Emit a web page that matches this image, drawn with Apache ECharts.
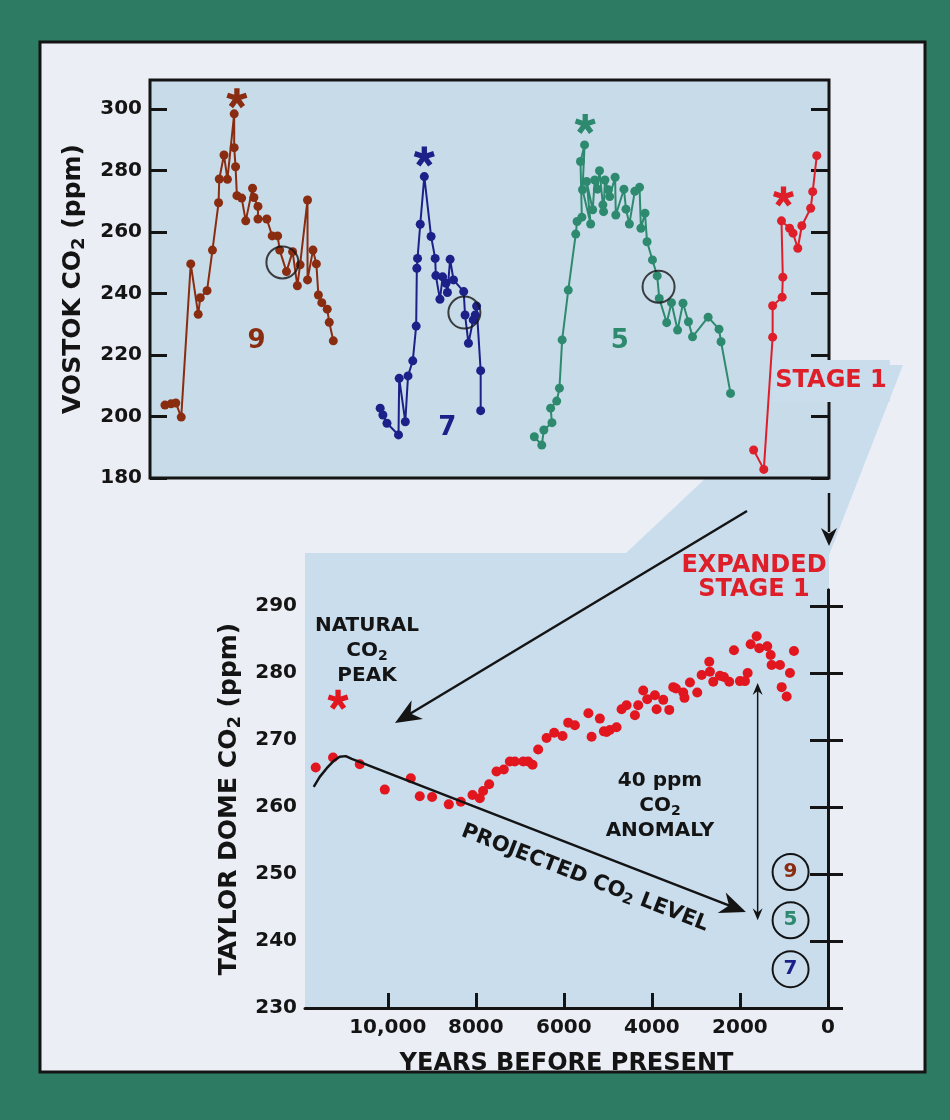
<!DOCTYPE html>
<html><head><meta charset="utf-8">
<script src="https://cdn.jsdelivr.net/npm/echarts@6/dist/echarts.min.js"></script>
<style>html,body{margin:0;padding:0;background:#2e7b63}#c{width:950px;height:1120px}</style>
</head><body><div id="c"></div>
<script>
// ---------------- DATA ----------------
// Upper panel (Vostok): x = relative position along the compressed time axis (0-100), y = CO2 ppm
const vostokTicks = [180, 200, 220, 240, 260, 280, 300];
const stage9 = [[2.2,203.7],[3.1,204.1],[3.8,204.4],[4.6,199.8],[6.0,249.6],[7.1,233.2],[7.4,238.6],[8.4,240.9],[9.2,254.1],[10.1,269.5],[10.2,277.2],[10.9,285.0],[11.4,277.1],[12.4,298.4],[12.4,287.4],[12.6,281.2],[12.8,271.8],[13.5,271.0],[14.1,263.6],[15.1,274.2],[15.3,271.2],[15.9,268.3],[15.9,264.2],[17.2,264.2],[18.0,258.7],[18.8,258.7],[19.1,254.1],[20.1,247.1],[21.0,253.6],[21.7,242.5],[22.1,249.3],[23.2,270.4],[23.2,244.4],[24.0,254.1],[24.5,249.6],[24.8,239.5],[25.3,237.0],[26.1,234.9],[26.4,230.6],[27.0,224.6]];
const stage7 = [[33.9,202.7],[34.3,200.5],[34.9,197.8],[36.6,194.0],[36.7,212.4],[37.6,198.3],[38.0,213.2],[38.7,218.1],[39.2,229.4],[39.3,248.2],[39.4,251.4],[39.8,262.5],[40.4,278.0],[41.4,258.5],[42.0,251.4],[42.1,245.8],[42.7,238.1],[43.1,245.4],[43.6,243.3],[43.8,240.3],[44.2,251.1],[44.7,244.4],[46.2,240.6],[46.4,233.0],[46.9,223.8],[47.6,231.4],[47.9,233.0],[48.1,235.9],[48.7,214.9],[48.7,201.9]];
const stage5 = [[56.6,193.4],[57.7,190.7],[58.0,195.6],[59.2,198.0],[59.0,202.7],[59.9,205.0],[60.3,209.2],[60.7,224.9],[61.6,241.1],[62.7,259.3],[62.9,263.4],[63.6,264.8],[63.4,282.9],[64.0,288.3],[63.7,273.7],[64.9,262.6],[64.3,276.4],[65.2,267.2],[65.5,276.9],[65.9,273.9],[66.2,279.9],[66.7,268.8],[66.8,266.6],[67.0,276.9],[67.5,273.7],[67.7,271.5],[68.5,277.8],[68.6,265.5],[69.8,273.9],[70.1,267.4],[70.6,262.6],[71.4,273.2],[72.1,274.5],[72.3,261.2],[72.9,266.1],[73.2,256.8],[74.0,250.9],[74.7,245.7],[75.0,238.4],[76.1,230.5],[76.8,237.0],[77.7,228.1],[78.5,236.8],[79.3,230.8],[79.9,225.9],[82.2,232.3],[83.8,228.4],[84.1,224.3],[85.5,207.5]];
const stage1 = [[88.9,189.1],[90.4,182.8],[91.7,225.8],[91.7,236.0],[93.1,238.8],[93.2,245.3],[93.0,263.6],[94.2,261.2],[94.7,259.6],[95.4,254.7],[96.0,262.0],[97.3,267.7],[97.6,273.1],[98.2,284.8]];
const peakStars = [[12.8,303.5],[40.4,284.5],[64.1,295.1],[93.3,271.5]];
const transitionCircles = [[19.5,250.1],[46.3,233.8],[74.9,242.2]];
const stageNames = ['9', '7', '5'];
const stageNamePos = [[15.7,224.3],[43.8,196.2],[69.2,224.3]];

// Lower panel (Taylor Dome)
const yearTicks = [10000, 8000, 6000, 4000, 2000, 0];
const yearTickLabels = ['10,000', '8000', '6000', '4000', '2000', '0'];
const taylorTicks = [230, 240, 250, 260, 270, 280, 290];
const taylorYears = [11636,11243,10636,10068,9477,9273,8993,8614,8341,8075,7909,7834,7697,7530,7364,7227,7114,6924,6811,6711,6584,6393,6220,6030,5902,5750,5443,5370,5182,5091,5030,4955,4803,4689,4575,4386,4311,4197,4106,3932,3893,3742,3606,3515,3455,3288,3260,3136,2970,2870,2697,2682,2606,2455,2364,2243,2136,2000,1886,1825,1757,1620,1561,1380,1302,1280,1091,1052,939,864,773];
const taylorCO2   = [265.9,267.4,266.4,262.6,264.3,261.6,261.5,260.4,260.8,261.8,261.3,262.4,263.4,265.3,265.6,266.8,266.8,266.8,266.8,266.3,268.6,270.3,271.1,270.6,272.6,272.2,274.0,270.5,273.2,271.3,271.2,271.5,271.9,274.6,275.2,273.7,275.2,277.4,276.1,276.7,274.6,276.0,274.5,277.9,277.7,277.1,276.3,278.6,277.1,279.7,281.7,280.2,278.7,279.6,279.4,278.7,283.4,278.8,278.8,280.0,284.3,285.5,283.7,284.0,282.7,281.2,281.2,277.9,276.5,280.0,283.3];
const projYears = [11682,11545,11386,11227,11091,10955,10818,1932];
const projCO2   = [263.0,264.5,265.8,266.9,267.5,267.6,267.2,244.5];
const naturalPeak = [11129, 276.0];
const stageLevelYear = 850;
const stageLevels = [['9',250.3],['5',243.1],['7',235.8]];
const anomalyYear = 1598;
const anomalyRange = [278.5, 243.1];

// ---------------- STYLE ----------------
const F = '"DejaVu Sans", Arial, sans-serif';
const INK = '#141414';
const C9 = '#8a2c10', C7 = '#1c2088', C5 = '#2e8a6f', C1 = '#de1f2a', CT = '#e2161f';
const PLOT = '#c7dbe9', LAV = '#eceef6';
const colorsByName = {'9': C9, '7': C7, '5': C5};

function asteriskPath(arms) {
  let d = '';
  const L = 100, w = 52, s = 110;
  for (let i = 0; i < arms; i++) {
    const t = i * 2 * Math.PI / arms - Math.PI / 2;
    const ux = Math.cos(t), uy = Math.sin(t), px = -uy, py = ux;
    const pts = [[px*w/2, py*w/2],[ux*L+px*w/2, uy*L+py*w/2],[ux*L-px*w/2, uy*L-py*w/2],[-px*w/2, -py*w/2]];
    d += 'M' + pts.map(p => (p[0]+s).toFixed(1) + ' ' + (p[1]+s).toFixed(1)).join('L') + 'Z';
  }
  return 'path://' + d;
}
const STAR = asteriskPath(5);

const tickStyle = {color: INK, width: 3};
const labelStyle = {fontSize: 20, fontWeight: 'bold', fontFamily: F, color: INK};
const subRich = {s: {fontSize: 18, fontWeight: 'bold', fontFamily: F, color: INK, padding: [12, 0, 0, 0]}};

const chart = echarts.init(document.getElementById('c'));
chart.setOption({
  backgroundColor: '#2e7b63',
  animation: false,
  grid: [
    {left: 150, top: 80, width: 679, height: 398, show: true, backgroundColor: PLOT, borderColor: INK, borderWidth: 3},
    {left: 305, top: 590, width: 523, height: 418, show: false}
  ],
  xAxis: [
    {type: 'value', gridIndex: 0, min: 0, max: 100, show: false},
    {type: 'value', gridIndex: 1, min: 0, max: 11880, interval: 2000, inverse: true,
     axisLine: {show: true, lineStyle: tickStyle},
     axisTick: {show: true, inside: true, length: 15, lineStyle: tickStyle, customValues: yearTicks},
     axisLabel: Object.assign({customValues: yearTicks, margin: 10,
       formatter: v => { const i = yearTicks.indexOf(v); return i >= 0 ? yearTickLabels[i] : ''; }}, labelStyle),
     splitLine: {show: false},
     name: 'YEARS BEFORE PRESENT', nameLocation: 'middle', nameGap: 44,
     nameTextStyle: {fontSize: 24, fontWeight: 'bold', fontFamily: F, color: INK}}
  ],
  yAxis: [
    {type: 'value', gridIndex: 0, min: 180, max: 309.4, interval: 20,
     axisLine: {show: false},
     axisTick: {show: true, inside: true, length: 17, lineStyle: tickStyle, customValues: vostokTicks},
     axisLabel: Object.assign({customValues: vostokTicks, margin: 8}, labelStyle),
     splitLine: {show: false},
     name: 'VOSTOK CO{s|2} (ppm)', nameLocation: 'middle', nameRotate: 90, nameGap: 62,
     nameTextStyle: {fontSize: 25, fontWeight: 'bold', fontFamily: F, color: INK, rich: subRich}},
    {type: 'value', gridIndex: 0, position: 'right', min: 180, max: 309.4, interval: 20,
     axisLine: {show: false},
     axisTick: {show: true, inside: true, length: 18, lineStyle: tickStyle, customValues: vostokTicks},
     axisLabel: {show: false}, splitLine: {show: false}},
    {type: 'value', gridIndex: 1, min: 230, max: 292.4, interval: 10,
     axisLine: {show: true, lineStyle: tickStyle},
     axisTick: {show: true, inside: true, length: 15, lineStyle: tickStyle, customValues: taylorTicks},
     axisLabel: Object.assign({customValues: taylorTicks, margin: 8}, labelStyle),
     splitLine: {show: false},
     name: 'TAYLOR DOME CO{s|2} (ppm)', nameLocation: 'middle', nameRotate: 90, nameGap: 56,
     nameTextStyle: {fontSize: 25, fontWeight: 'bold', fontFamily: F, color: INK, rich: subRich}},
    {type: 'value', gridIndex: 1, position: 'right', min: 230, max: 292.4, interval: 10,
     axisLine: {show: true, lineStyle: tickStyle},
     axisTick: {show: true, inside: true, length: 18, lineStyle: tickStyle, customValues: taylorTicks},
     axisLabel: {show: false}, splitLine: {show: false}}
  ],
  series: [
    {type: 'line', name: '9', xAxisIndex: 0, yAxisIndex: 0, data: stage9, color: C9, symbol: 'circle', symbolSize: 9, lineStyle: {width: 2}},
    {type: 'line', name: '7', xAxisIndex: 0, yAxisIndex: 0, data: stage7, color: C7, symbol: 'circle', symbolSize: 9, lineStyle: {width: 2}},
    {type: 'line', name: '5', xAxisIndex: 0, yAxisIndex: 0, data: stage5, color: C5, symbol: 'circle', symbolSize: 9, lineStyle: {width: 2}},
    {type: 'line', name: 'Stage 1', xAxisIndex: 0, yAxisIndex: 0, data: stage1, color: C1, symbol: 'circle', symbolSize: 9, lineStyle: {width: 2}},
    {type: 'scatter', xAxisIndex: 0, yAxisIndex: 0, symbol: STAR, symbolSize: 21, symbolKeepAspect: true, z: 5,
     data: peakStars.map((p, i) => ({value: p, itemStyle: {color: [C9, C7, C5, C1][i], opacity: 1}}))},
    {type: 'scatter', xAxisIndex: 0, yAxisIndex: 0, symbol: 'circle', symbolSize: 32, z: 6,
     itemStyle: {color: 'rgba(0,0,0,0)', borderColor: INK, borderWidth: 2}, data: transitionCircles},
    {type: 'scatter', xAxisIndex: 1, yAxisIndex: 2, symbol: 'circle', symbolSize: 10,
     itemStyle: {color: CT, opacity: 1}, data: taylorYears.map((y, i) => [y, taylorCO2[i]])},
    {type: 'line', xAxisIndex: 1, yAxisIndex: 2, symbol: 'none', lineStyle: {color: INK, width: 2.5},
     data: projYears.map((y, i) => [y, projCO2[i]])},
    {type: 'scatter', xAxisIndex: 1, yAxisIndex: 2, symbol: STAR, symbolSize: 21, symbolKeepAspect: true,
     itemStyle: {color: CT, opacity: 1}, data: [naturalPeak]},
    {type: 'scatter', xAxisIndex: 1, yAxisIndex: 2, symbol: 'circle', symbolSize: 36,
     itemStyle: {color: 'rgba(0,0,0,0)', borderColor: INK, borderWidth: 2, opacity: 1},
     label: {show: true, position: 'inside', fontSize: 20, fontWeight: 'bold', fontFamily: F},
     data: stageLevels.map(s => ({value: [stageLevelYear, s[1]], label: {formatter: s[0], color: colorsByName[s[0]]}}))}
  ]
});

// ---------------- ANNOTATIONS ----------------
const topPx = p => chart.convertToPixel({xAxisIndex: 0, yAxisIndex: 0}, p);
const botPx = p => chart.convertToPixel({xAxisIndex: 1, yAxisIndex: 2}, p);

function arrowHead(tip, from, len, half, notch) {
  const dx = tip[0] - from[0], dy = tip[1] - from[1], d = Math.hypot(dx, dy);
  const ux = dx / d, uy = dy / d, px = -uy, py = ux;
  const bx = tip[0] - ux * len, by = tip[1] - uy * len;
  const nx = tip[0] - ux * len * (1 - notch), ny = tip[1] - uy * len * (1 - notch);
  return [[tip[0], tip[1]], [bx + px * half, by + py * half], [nx, ny], [bx - px * half, by - py * half]];
}
function textRich(size, color, lh) {
  return {
    a: {fontSize: size, fontWeight: 'bold', fontFamily: F, fill: color, color: color, lineHeight: lh, align: 'center'},
    s: {fontSize: Math.round(size * 0.72), fontWeight: 'bold', fontFamily: F, fill: color, color: color, lineHeight: lh, padding: [10, 0, 0, 0]}
  };
}

const g = [];
// panel
g.push({type: 'rect', z: -100, shape: {x: 40, y: 42, width: 885, height: 1030}, style: {fill: LAV, stroke: INK, lineWidth: 3}});
// expansion band
g.push({type: 'polygon', z: -90, shape: {points: [[826,365],[903,365],[829,555],[829,1008],[305,1008],[305,553],[626,553]]}, style: {fill: '#cadded'}});

// stage labels in top panel
stageNames.forEach((n, i) => {
  const p = topPx(stageNamePos[i]);
  g.push({type: 'text', z: 50, x: p[0], y: p[1], style: {text: n, align: 'center', verticalAlign: 'middle', font: 'bold 26px ' + F, fill: colorsByName[n]}});
});
// STAGE 1 label
{
  const p = topPx([100.3, 211.5]);
  g.push({type: 'text', z: 60, x: p[0], y: p[1], style: {text: 'STAGE 1', align: 'center', verticalAlign: 'middle', font: 'bold 24px ' + F, fill: C1, backgroundColor: '#cadded', padding: [9, 3, 9, 3]}});
}
// small down arrow & EXPANDED STAGE 1
g.push({type: 'line', z: 50, shape: {x1: 829, y1: 493, x2: 829, y2: 532}, style: {stroke: INK, lineWidth: 2.5}});
g.push({type: 'polygon', z: 50, shape: {points: arrowHead([829, 546], [829, 493], 18, 8, 0.3)}, style: {fill: INK}});
g.push({type: 'text', z: 50, x: 754, y: 578, style: {text: 'EXPANDED\nSTAGE 1', align: 'center', verticalAlign: 'middle', font: 'bold 24px ' + F, fill: C1, lineHeight: 24}});
// big arrow
g.push({type: 'line', z: 50, shape: {x1: 747, y1: 511, x2: 408, y2: 715}, style: {stroke: INK, lineWidth: 2.5}});
g.push({type: 'polygon', z: 50, shape: {points: arrowHead([395, 723], [747, 511], 26, 11, 0.3)}, style: {fill: INK}});
// NATURAL CO2 PEAK
g.push({type: 'text', z: 50, x: 367, y: 651, style: {text: '{a|NATURAL}\n{a|CO}{s|2}\n{a|PEAK}', rich: textRich(20, INK, 25), align: 'center', verticalAlign: 'middle'}});
// 40 ppm anomaly text
g.push({type: 'text', z: 50, x: 660, y: 806, style: {text: '{a|40 ppm}\n{a|CO}{s|2}\n{a|ANOMALY}', rich: textRich(20, INK, 25), align: 'center', verticalAlign: 'middle'}});
// anomaly double arrow
{
  const a = botPx([anomalyYear, anomalyRange[0]]), b = botPx([anomalyYear, anomalyRange[1]]);
  g.push({type: 'line', z: 50, shape: {x1: a[0], y1: a[1] + 6, x2: b[0], y2: b[1] - 6}, style: {stroke: INK, lineWidth: 1.5}});
  g.push({type: 'polygon', z: 50, shape: {points: arrowHead(a, b, 12, 5, 0.35)}, style: {fill: INK}});
  g.push({type: 'polygon', z: 50, shape: {points: arrowHead(b, a, 12, 5, 0.35)}, style: {fill: INK}});
}
// projected line arrow head + label
{
  const n = projYears.length;
  const tip = botPx([projYears[n - 1], projCO2[n - 1]]);
  const from = botPx([projYears[n - 2], projCO2[n - 2]]);
  g.push({type: 'polygon', z: 50, shape: {points: arrowHead([tip[0] + 3, tip[1] + 1.2], from, 26, 11, 0.3)}, style: {fill: INK}});
  const ang = Math.atan2(tip[1] - from[1], tip[0] - from[0]);
  const c = botPx([5523, 249.4]);
  g.push({type: 'text', z: 50, x: c[0], y: c[1], rotation: -ang, style: {text: '{a|PROJECTED CO}{s|2}{a| LEVEL}', rich: textRich(21, INK, 26), align: 'center', verticalAlign: 'middle'}});
}
chart.setOption({graphic: {elements: g}});
</script>
</body></html>
